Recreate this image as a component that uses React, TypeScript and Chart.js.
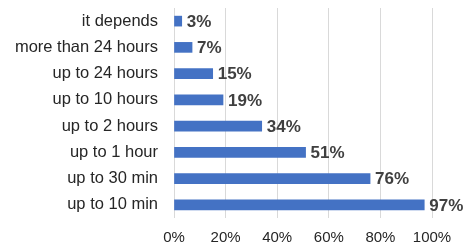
import React, { useEffect, useRef } from "react";
import { Chart, registerables } from "chart.js";

Chart.register(...registerables);

const categories = [
  "it depends",
  "more than 24 hours",
  "up to 24 hours",
  "up to 10 hours",
  "up to 2 hours",
  "up to 1 hour",
  "up to 30 min",
  "up to 10 min",
];
const values = [3, 7, 15, 19, 34, 51, 76, 97];
const xTicks = [0, 20, 40, 60, 80, 100];

const FONT = "'Liberation Sans', Arial, sans-serif";

const valueLabels = {
  id: "valueLabels",
  afterDatasetsDraw(chart: any) {
    const ctx = chart.ctx;
    const meta = chart.getDatasetMeta(0);
    ctx.save();
    ctx.font = `bold 17px ${FONT}`;
    ctx.fillStyle = "#404040";
    ctx.textAlign = "left";
    ctx.textBaseline = "middle";
    meta.data.forEach((bar: any, i: number) => {
      ctx.fillText(values[i] + "%", bar.x + 5, bar.y + 1);
    });
    ctx.restore();
  },
};

export default function App() {
  const ref = useRef<HTMLCanvasElement>(null);
  useEffect(() => {
    const chart = new Chart(ref.current!, {
      type: "bar",
      data: {
        labels: categories,
        datasets: [
          {
            data: values,
            backgroundColor: "#4472C4",
            borderWidth: 0,
            barThickness: 10,
          },
        ],
      },
      options: {
        indexAxis: "y",
        animation: false,
        responsive: false,
        maintainAspectRatio: false,
        layout: { padding: { top: 8, right: 37, left: 0, bottom: 0 } },
        plugins: { legend: { display: false }, tooltip: { enabled: false } },
        scales: {
          x: {
            min: 0,
            max: 100,
            afterBuildTicks(scale: any) {
              scale.ticks = xTicks.map((v) => ({ value: v }));
            },
            afterFit(scale: any) {
              scale.height = 34;
              scale.paddingLeft = 0;
              scale.paddingRight = 0;
            },
            ticks: {
              callback: (v: any) => v + "%",
              font: { family: FONT, size: 15 },
              color: "#262626",
              padding: 11,
              maxRotation: 0,
            },
            grid: { color: "#d9d9d9", drawTicks: false, lineWidth: 1 },
            border: { display: false },
          },
          y: {
            afterFit(scale: any) {
              scale.width = 174;
              scale.paddingTop = 0;
              scale.paddingBottom = 0;
            },
            ticks: {
              font: { family: FONT, size: 16.5 },
              color: "#262626",
              padding: 16,
            },
            grid: { display: false, drawTicks: false },
            border: { display: false },
          },
        },
      },
      plugins: [valueLabels],
    });
    return () => chart.destroy();
  }, []);
  return (
    <div style={{ position: "fixed", left: 0, top: 0, width: 469, height: 252, background: "#fff" }}>
      <canvas ref={ref} width={469} height={252} style={{ width: 469, height: 252 }} />
    </div>
  );
}
